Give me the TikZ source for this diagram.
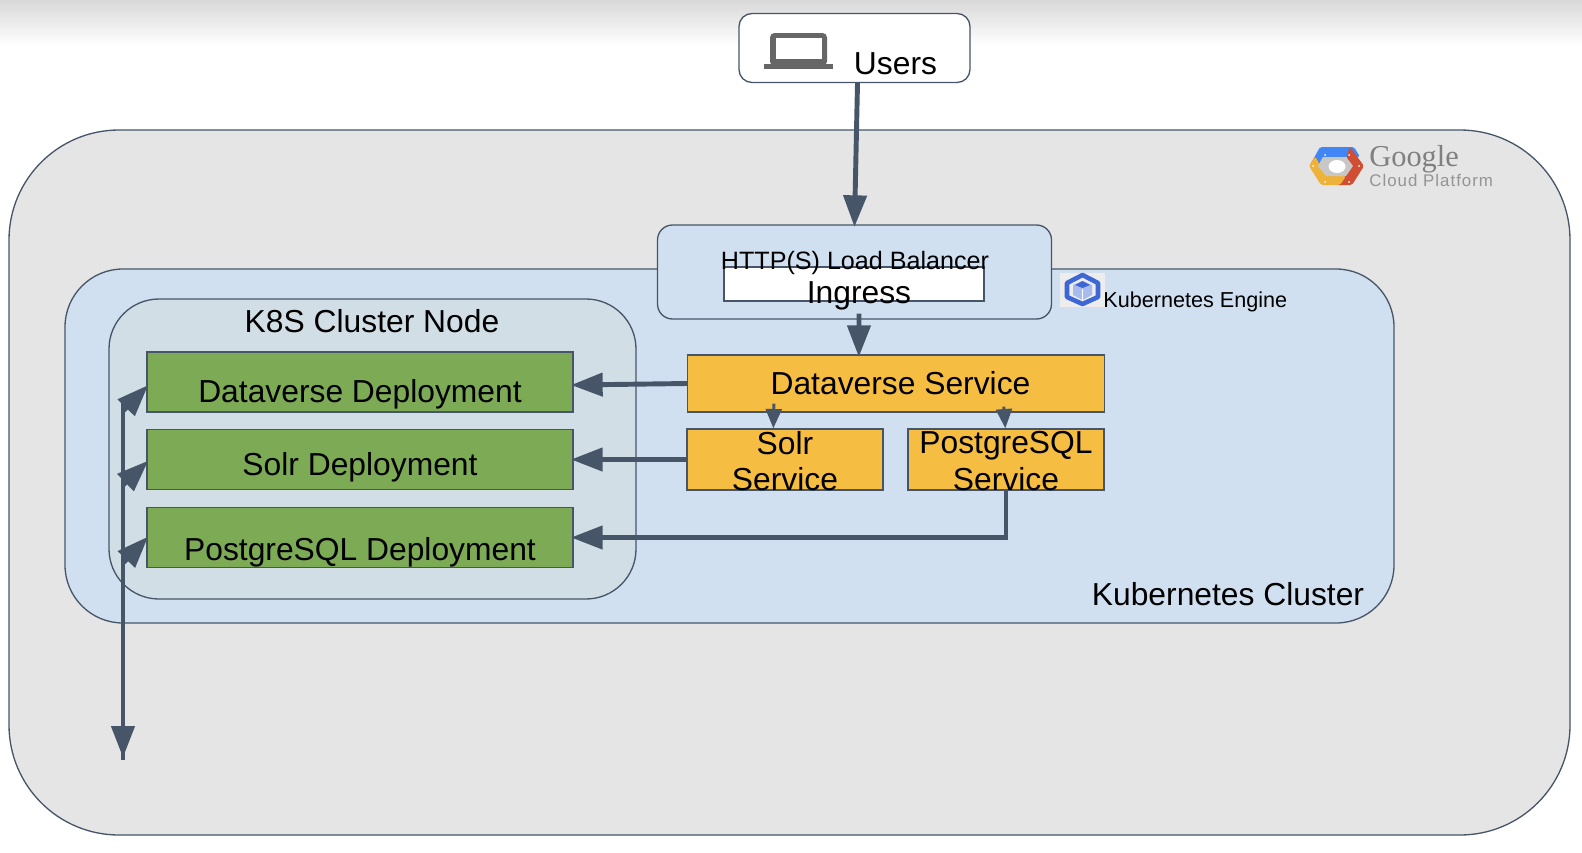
\documentclass[tikz,border=0pt]{standalone}
\usepackage{fontspec}
\setmainfont{Liberation Sans}
\newfontfamily\googlefont{Liberation Serif}
\newfontfamily\cloudfont[LetterSpace=6]{Liberation Sans}
\usetikzlibrary{arrows.meta,calc,positioning}
\definecolor{linegray}{RGB}{71,85,105}
\definecolor{outerfill}{RGB}{229,229,229}
\definecolor{clusterblue}{RGB}{209,224,240}
\definecolor{nodefill}{RGB}{209,222,230}
\definecolor{deploygreen}{RGB}{125,170,85}
\definecolor{serviceamber}{RGB}{245,189,65}
\definecolor{gcpblue}{RGB}{66,133,244}
\definecolor{gcpred}{RGB}{208,78,52}
\definecolor{gcpyellow}{RGB}{238,178,58}
\definecolor{kebblue}{RGB}{62,103,214}
\begin{document}
\begin{tikzpicture}[
    x=0.02cm, y=-0.02cm,
    frame/.style={draw=linegray, line width=0.75pt},
    deploy/.style={frame, rectangle, fill=deploygreen, minimum width=426*0.02cm, minimum height=60*0.02cm, inner sep=0pt},
    service/.style={frame, rectangle, fill=serviceamber, inner sep=0pt, align=center},
    bigflow/.style={draw=linegray, line width=2.8pt, shorten >=-1.5pt, -{Triangle[length=18pt,width=13pt]}},
    smallflow/.style={draw=linegray, line width=1.7pt, -{Triangle[length=11pt,width=9pt]}},
    bigtext/.style={font=\fontsize{18.1pt}{21pt}\selectfont}
]
\useasboundingbox (0,0) rectangle (1582,852);

% Top shadow
\fill[white] (0,0) rectangle (1582,852);
\shade[top color=black!15, bottom color=white] (0,0) rectangle (1582,46);

% Containers
\draw[frame, fill=outerfill, rounded corners=110*0.02cm] (9,130) rectangle (1570,835);
\draw[frame, fill=clusterblue, rounded corners=58*0.02cm] (65,269) rectangle (1394,623);
\draw[frame, fill=nodefill, rounded corners=50*0.02cm] (109,299) rectangle (636,599);

% Boxes
\node[frame, rectangle, rounded corners=2.6mm, fill=white, minimum width=231*0.02cm, minimum height=69*0.02cm] (users) at (854.5,48) {};
\node[frame, rectangle, rounded corners=3mm, fill=clusterblue, minimum width=394*0.02cm, minimum height=94*0.02cm] (balancer) at (854.5,272) {};
\node[frame, rectangle, fill=white, minimum width=260*0.02cm, minimum height=34*0.02cm, inner sep=0pt] (ingress) at (854,284) {};
\node[bigtext] (userstext) at (895.5,64) {Users};
\node[font=\fontsize{14.3pt}{18pt}\selectfont] (balancertext) at (855,263) {HTTP(S) Load Balancer};
\node[bigtext] (ingresstext) at (859,296) {Ingress};

\node[service, minimum width=417*0.02cm, minimum height=57*0.02cm] (dvservice) at (896,383.5) {};
\node[bigtext] (dvservicetext) at (900.5,383.5) {Dataverse Service};
\node[service, minimum width=196*0.02cm, minimum height=61*0.02cm] (solrservice) at (785,459.5) {};
\node[service, minimum width=196*0.02cm, minimum height=61*0.02cm] (pgservice) at (1006,459.5) {};
\node[bigtext] (solrtext1) at (785,443) {Solr};
\node[bigtext] (solrtext2) at (785,479) {Service};
\node[bigtext] (pgtext1) at (1006,445.5) {PostgreSQL};
\node[bigtext] (pgtext2) at (1006,479) {Service};

\node[deploy] (dvdeploy) at (360,382) {};
\node[deploy] (solrdeploy) at (360,459.5) {};
\node[deploy] (pgdeploy) at (360,537.5) {};
\node[bigtext] (dvdeploytext) at (360,394) {Dataverse Deployment};
\node[bigtext] (solrdeploytext) at (360,467) {Solr Deployment};
\node[bigtext] (pgdeploytext) at (360,552) {PostgreSQL Deployment};

% Labels
\node[bigtext] (nodelabel) at (372,321) {K8S Cluster Node};
\node[bigtext] (clusterlabel) at (1228,594) {Kubernetes Cluster};
\node[font=\fontsize{12.3pt}{15pt}\selectfont, anchor=west, inner sep=0pt] (enginelabel) at (1103,302) {Kubernetes Engine};
\node[font=\fontsize{17.3pt}{18pt}\selectfont\googlefont, text=black!50, anchor=west, inner sep=0pt] (googlelabel) at (1369,159) {Google};
\node[font=\fontsize{9.6pt}{11pt}\selectfont\cloudfont, text=black!42, anchor=west, inner sep=0pt] (cloudlabel) at (1369,180.5) {Cloud Platform};

% Laptop icon
\fill[black!60, rounded corners=2.5pt] (770,33) rectangle (827,66);
\fill[white] (776,38) rectangle (822,59);
\fill[black!60] (764,64) rectangle (833,69);

% Cloud platform logo
\fill[gcpblue, rounded corners=1pt] (1309,167) -- (1320,147) -- (1354,147) -- (1360,157) -- (1323,157) -- (1316,170) -- cycle;
\fill[gcpred, rounded corners=1pt] (1350,147) -- (1364,166) -- (1352,185) -- (1335,185) -- (1345,176) -- (1353,166) -- (1346,157) -- cycle;
\fill[gcpyellow, rounded corners=1pt] (1309,166) -- (1315,156) -- (1326,176) -- (1346,176) -- (1340,185) -- (1321,185) -- cycle;
\fill[black!22] (1323,157) -- (1346,157) -- (1353,166) -- (1346,176) -- (1326,176) -- (1318,166) -- cycle;
\fill[white] (1337,166.5) ellipse (8.5 and 6.5);
\foreach \dotx/\doty in {1325/155,1349/155,1359/166,1349/182,1325/182,1313/166} {
    \fill[white] (\dotx,\doty) circle (1);
}

% Kubernetes engine icon
\fill[black!7] (1060,273) rectangle (1105,307);
\draw[kebblue, line width=2.6pt, line join=round] (1082.5,275) -- (1098,283) -- (1098,297) -- (1082.5,304) -- (1067,297) -- (1067,283) -- cycle;
\fill[kebblue!45] (1073,285) -- (1082.5,281) -- (1092,285) -- (1092,295) -- (1082.5,300) -- (1073,295) -- cycle;
\fill[kebblue] (1082.5,281) -- (1090,285) -- (1082.5,288) -- (1075,285) -- cycle;
\draw[white, line width=0.5pt] (1082.5,289) -- (1082.5,300);

% Connectors
\coordinate (usersout) at ($(users.south)+(3,0)$);
\coordinate (ingressout) at ($(balancer.south)+(4.5,-6)$);
\coordinate (dvtop) at ($(dvservice.north west)+(172,0)$);
\coordinate (solrfrom) at ($(dvservice.south west)+(87,-9)$);
\coordinate (solrto) at ($(solrservice.north west)+(87,0)$);
\coordinate (pgfrom) at ($(dvservice.south west)+(317,-6)$);
\coordinate (pgto) at ($(pgservice.north west)+(98,0)$);
\coordinate (dvin) at ($(dvdeploy.east)+(0,3)$);
\coordinate (bustop) at (123,400);
\coordinate (busend) at (123,760);
\coordinate (bustip) at (123,755);
\coordinate (dvbranch) at (123,411);
\coordinate (solrbranch) at (123,485);
\coordinate (pgbranch) at (123,563);

\draw[bigflow] (usersout) -- (balancer.north);
\draw[bigflow] (ingressout) -- (dvtop);
\draw[smallflow] (solrfrom) -- (solrto);
\draw[smallflow] (pgfrom) -- (pgto);
\draw[bigflow] (dvservice.west) -- (dvin);
\draw[bigflow] (solrservice.west) -- (solrdeploy.east);
\draw[bigflow] (pgservice.south) |- (pgdeploy.east);

\draw[draw=linegray, line width=2.8pt] (bustop) -- (busend);
\draw[bigflow] (bustop) -- (bustip);
\draw[bigflow] (dvbranch) -- ($(dvdeploy.west)+(0,5)$);
\draw[bigflow] (solrbranch) -- ($(solrdeploy.west)+(0,3)$);
\draw[bigflow] (pgbranch) -- ($(pgdeploy.west)+(0,1)$);

\end{tikzpicture}
\end{document}
